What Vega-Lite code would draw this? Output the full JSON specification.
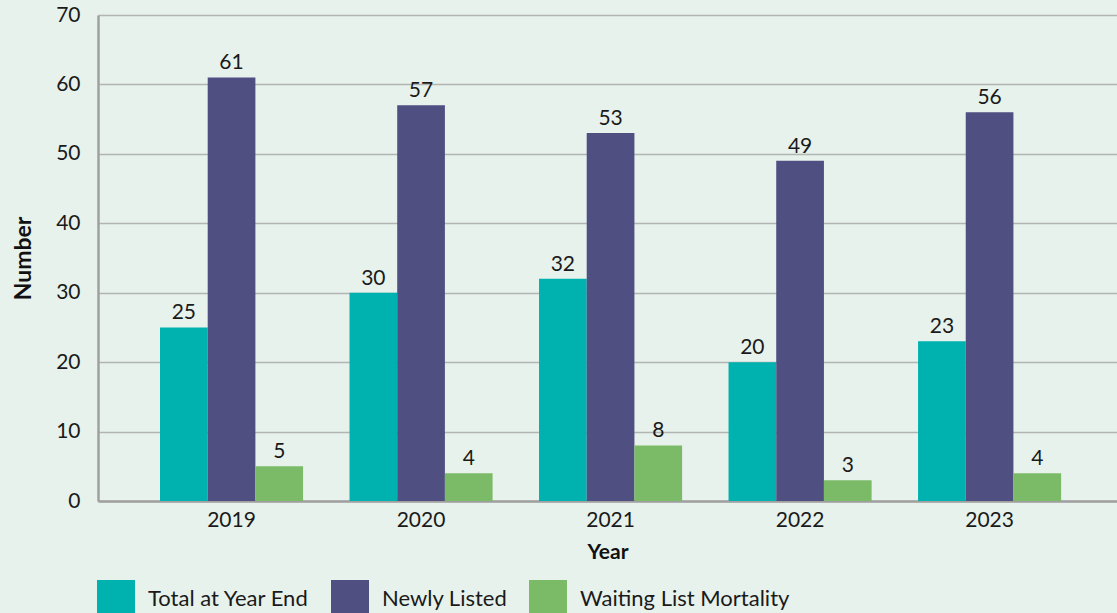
{
  "$schema": "https://vega.github.io/schema/vega-lite/v6.json",
  "width": 1019,
  "height": 486,
  "autosize": {"type": "none"},
  "padding": {"left": 98, "top": 15, "right": 0, "bottom": 112},
  "background": "#e7f2ec",
  "config": {
    "view": {"stroke": null},
    "font": "Lato",
    "text": {"font": "Lato"}
  },
  "data": {
    "values": [
      {"year": "2019", "series": "Total at Year End", "value": 25},
      {"year": "2019", "series": "Newly Listed", "value": 61},
      {"year": "2019", "series": "Waiting List Mortality", "value": 5},
      {"year": "2020", "series": "Total at Year End", "value": 30},
      {"year": "2020", "series": "Newly Listed", "value": 57},
      {"year": "2020", "series": "Waiting List Mortality", "value": 4},
      {"year": "2021", "series": "Total at Year End", "value": 32},
      {"year": "2021", "series": "Newly Listed", "value": 53},
      {"year": "2021", "series": "Waiting List Mortality", "value": 8},
      {"year": "2022", "series": "Total at Year End", "value": 20},
      {"year": "2022", "series": "Newly Listed", "value": 49},
      {"year": "2022", "series": "Waiting List Mortality", "value": 3},
      {"year": "2023", "series": "Total at Year End", "value": 23},
      {"year": "2023", "series": "Newly Listed", "value": 56},
      {"year": "2023", "series": "Waiting List Mortality", "value": 4}
    ]
  },
  "encoding": {
    "x": {
      "field": "year",
      "type": "nominal",
      "scale": {"paddingInner": 0.245, "paddingOuter": 0.311, "align": 0.526},
      "axis": {
        "title": "Year",
        "labelAngle": 0,
        "labelFontSize": 21,
        "labelColor": "#1a1a1a",
        "labelPadding": 8,
        "ticks": false,
        "domainColor": "#a0a0a0",
        "domainWidth": 2.5,
        "titleFontSize": 21,
        "titleFontWeight": "bold",
        "titleColor": "#111111",
        "titlePadding": 11
      }
    },
    "xOffset": {
      "field": "series",
      "type": "nominal",
      "sort": ["Total at Year End", "Newly Listed", "Waiting List Mortality"],
      "scale": {"paddingInner": 0, "paddingOuter": 0}
    },
    "y": {
      "field": "value",
      "type": "quantitative",
      "scale": {"domain": [0, 70], "nice": false},
      "axis": {
        "title": "Number",
        "values": [0, 10, 20, 30, 40, 50, 60, 70],
        "labelFontSize": 21,
        "labelColor": "#1a1a1a",
        "labelPadding": 18,
        "ticks": false,
        "grid": true,
        "gridColor": "#b3b5b4",
        "gridWidth": 1.5,
        "domainColor": "#a0a0a0",
        "domainWidth": 2.5,
        "titleFontSize": 23,
        "titleFontWeight": "bold",
        "titleColor": "#111111",
        "titlePadding": 20
      }
    }
  },
  "layer": [
    {
      "mark": {"type": "bar"},
      "encoding": {
        "color": {
          "field": "series",
          "type": "nominal",
          "sort": ["Total at Year End", "Newly Listed", "Waiting List Mortality"],
          "scale": {
            "domain": ["Total at Year End", "Newly Listed", "Waiting List Mortality"],
            "range": ["#00b2af", "#4f4f82", "#7bba67"]
          },
          "legend": {
            "title": null,
            "orient": "none",
            "direction": "horizontal",
            "legendX": -1,
            "legendY": 565,
            "symbolType": "square",
            "symbolSize": 1444,
            "symbolStrokeWidth": 0,
            "symbolOpacity": 1,
            "labelFontSize": 22,
            "labelColor": "#1a1a1a",
            "labelOffset": 13,
            "columnPadding": 21,
            "labelLimit": 400
          }
        }
      }
    },
    {
      "mark": {"type": "text", "baseline": "bottom", "dy": -4, "fontSize": 21, "color": "#1a1a1a"},
      "encoding": {
        "text": {"field": "value", "type": "quantitative"}
      }
    }
  ]
}
